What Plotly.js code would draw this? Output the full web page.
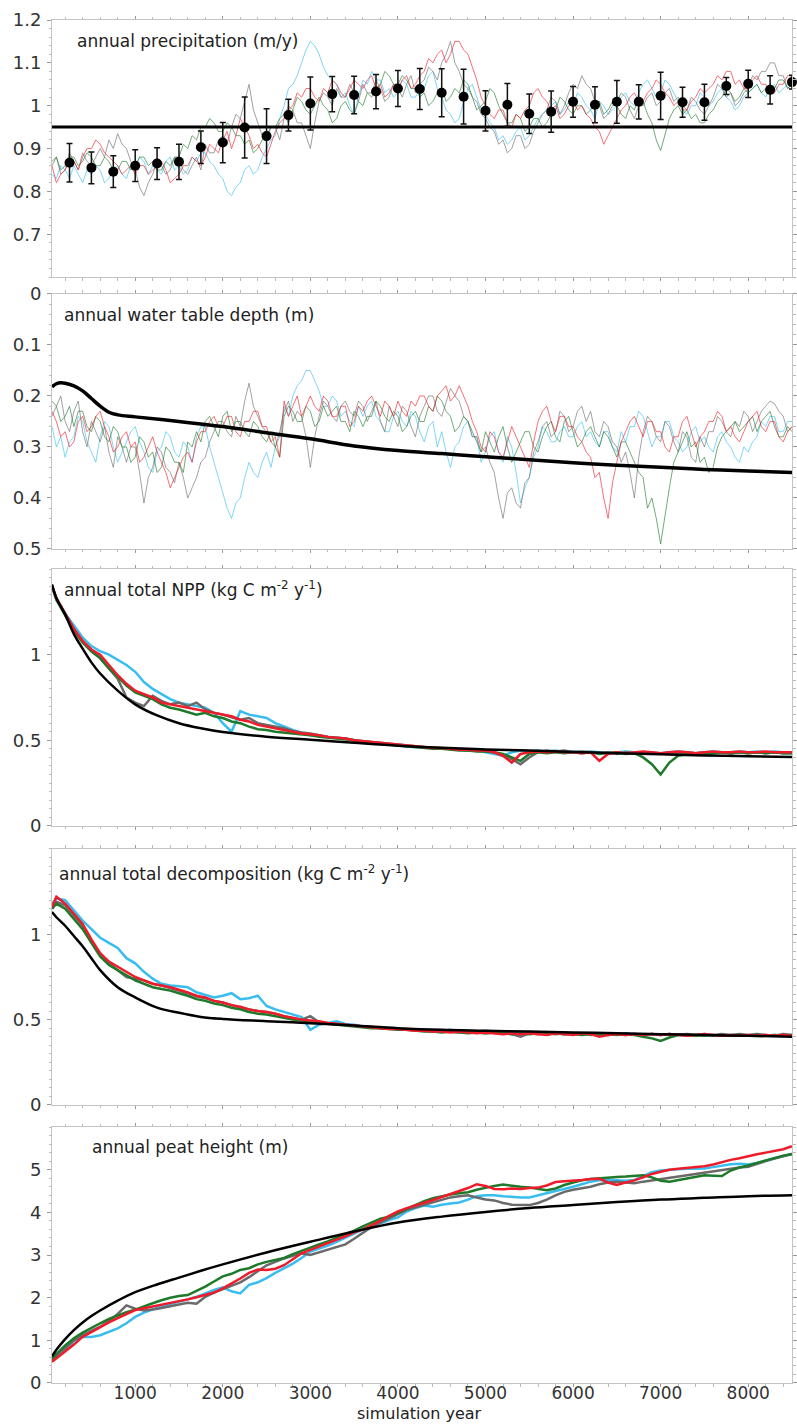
<!DOCTYPE html>
<html>
<head>
<meta charset="utf-8">
<script src="https://cdn.plot.ly/plotly-3.0.1.min.js"></script>
<style>html,body{margin:0;padding:0;background:#fff;}#chart{width:797px;height:1425px;}</style>
</head>
<body>
<div id="chart"></div>
<script>
// ---------- x grids ----------
const years = [50]; for (let y = 100; y <= 8500; y += 100) years.push(y);      // smooth panels (86)
const years50 = []; for (let y = 50; y <= 8500; y += 50) years50.push(y);       // noisy panels (170)
const dotYears = []; for (let y = 250; y <= 8500; y += 250) dotYears.push(y);
const blackYears = [50,100,200,300,400,500,600,800,1000,1250,1500,1750,2000,2500,3000,3500,4000,4500,5000,5500,6000,6500,7000,7500,8000,8500];
const wtBlackYears = [50,100,150,200,300,400,500,600,700,800,1000,1500,2000,2500,3000,3500,4000,4500,5000,5500,6000,6500,7000,7500,8000,8500];

// ---------- panel 1: annual precipitation ----------
const precipThreshold = 0.95;
const precipMean = [0.867,0.855,0.846,0.860,0.865,0.869,0.903,0.914,0.949,0.929,0.978,1.005,1.027,1.025,1.033,1.040,1.039,1.030,1.021,0.988,1.002,0.981,0.986,1.009,1.002,1.009,1.009,1.023,1.008,1.008,1.046,1.051,1.037,1.055];
const precipErr = [0.045,0.037,0.037,0.037,0.037,0.041,0.038,0.047,0.071,0.064,0.037,0.062,0.041,0.044,0.040,0.042,0.048,0.056,0.064,0.047,0.050,0.046,0.048,0.036,0.042,0.050,0.040,0.055,0.035,0.042,0.020,0.032,0.033,0.016];
const precipGray = [0.86,0.88,0.84,0.85,0.89,0.87,0.85,0.89,0.87,0.86,0.88,0.90,0.88,0.92,0.90,0.935,0.91,0.90,0.87,
 0.85,0.81,0.79,0.82,0.84,0.87,0.86,0.84,0.85,0.88,0.87,0.85,0.84,0.86,0.88,0.85,0.91,0.89,0.89,0.92,
 0.93,0.91,0.95,0.98,0.97,1.01,1.05,0.99,0.96,0.93,0.92,0.95,0.95,0.92,0.97,1.00,0.99,0.96,0.96,0.93,
 0.90,0.96,1.01,1.03,1.02,1.00,1.04,1.02,1.02,1.05,1.03,1.01,1.05,1.03,1.03,1.06,1.04,1.01,1.02,1.05,
 1.04,1.02,1.05,1.07,1.03,1.05,1.06,1.09,1.08,1.06,1.10,1.12,1.15,1.10,1.08,1.05,1.04,1.02,1.01,0.98,
 0.97,0.95,0.94,0.91,0.92,0.89,0.90,0.93,0.93,0.90,0.91,0.94,0.96,0.98,0.99,1.02,1.01,0.98,1.00,1.03,
 1.05,1.04,1.07,1.05,1.04,1.01,1.00,0.97,0.98,1.00,1.01,1.03,1.02,0.99,0.97,1.00,1.00,1.02,1.03,1.00,
 1.01,1.03,1.04,1.01,1.02,1.00,0.99,1.02,1.01,0.99,0.98,1.00,1.02,1.05,1.04,1.02,1.03,1.00,1.01,1.03,
 1.04,1.07,1.06,1.08,1.08,1.10,1.10,1.07,1.07,1.04,1.05];
const precipGreen = [0.87,0.88,0.85,0.86,0.88,0.88,0.86,0.87,0.89,0.88,0.86,0.86,0.88,0.87,0.85,0.85,0.87,0.87,0.85,
 0.86,0.88,0.88,0.86,0.87,0.85,0.85,0.87,0.86,0.88,0.88,0.91,0.90,0.93,0.92,0.95,0.95,0.97,0.96,0.94,
 0.94,0.96,0.95,0.93,0.93,0.91,0.92,0.89,0.90,0.92,0.93,0.95,0.95,0.97,0.98,0.96,0.99,1.02,1.01,0.99,
 0.98,1.00,1.02,1.00,0.99,0.96,0.97,1.00,1.01,0.99,0.98,1.01,1.00,1.03,1.02,1.04,1.05,1.08,1.07,1.05,
 1.05,1.07,1.06,1.04,1.04,1.02,1.03,1.00,1.01,1.03,1.04,1.01,1.02,1.04,1.03,1.06,1.05,1.02,0.99,1.00,
 1.01,1.04,1.03,1.00,0.98,0.96,0.96,0.98,0.97,0.94,0.95,0.97,0.97,0.95,0.96,0.98,0.99,1.02,1.01,0.99,
 0.98,1.00,1.00,0.98,0.99,1.01,1.01,0.98,0.99,1.01,1.00,0.98,0.97,1.00,0.99,1.02,1.01,0.98,0.96,0.92,
 0.895,0.93,0.97,0.99,1.00,0.98,0.99,0.97,0.98,0.96,0.96,0.98,0.99,1.01,1.02,1.04,1.03,1.01,1.02,1.04,
 1.03,1.04,1.05,1.03,1.04,1.05,1.04,1.06,1.06,1.04,1.05];
const precipBlue = [0.84,0.83,0.86,0.85,0.83,0.86,0.84,0.82,0.85,0.84,0.86,0.85,0.82,0.83,0.85,0.86,0.84,0.83,0.86,
 0.85,0.88,0.87,0.84,0.86,0.85,0.84,0.87,0.88,0.85,0.86,0.84,0.85,0.88,0.87,0.89,0.89,0.87,0.86,0.84,
 0.83,0.80,0.79,0.81,0.82,0.85,0.86,0.84,0.85,0.88,0.90,0.92,0.93,0.97,1.00,1.04,1.05,1.07,1.10,1.13,
 1.15,1.14,1.12,1.09,1.07,1.06,1.05,1.02,1.03,1.00,0.98,1.02,1.06,1.05,1.08,1.06,1.06,1.03,1.04,1.02,
 1.03,1.06,1.05,1.02,1.02,1.04,1.04,1.07,1.08,1.04,1.02,0.99,0.98,0.96,0.97,1.01,1.04,1.05,1.02,0.99,
 0.98,0.96,0.95,0.92,0.93,0.91,0.92,0.94,0.95,0.92,0.93,0.95,0.97,0.98,0.99,1.00,1.01,0.98,0.99,1.01,
 1.00,1.03,1.02,1.00,0.99,0.97,1.01,1.00,0.98,0.99,1.00,1.02,1.03,1.01,1.00,1.03,1.05,1.06,1.04,1.02,
 1.03,1.06,1.05,1.03,1.01,0.99,0.98,1.00,1.00,1.03,1.02,1.00,1.01,1.03,1.04,1.02,1.01,0.99,1.00,1.02,
 1.03,1.04,1.05,1.03,1.02,1.04,1.05,1.03,1.04,1.05,1.06];
const precipRed = [0.86,0.82,0.84,0.85,0.87,0.87,0.85,0.88,0.90,0.90,0.92,0.91,0.89,0.88,0.87,0.86,0.84,0.85,0.86,
 0.84,0.86,0.86,0.84,0.85,0.86,0.87,0.85,0.82,0.83,0.84,0.86,0.86,0.88,0.87,0.86,0.88,0.91,0.90,0.89,
 0.92,0.94,0.90,0.93,0.97,0.95,0.93,0.90,0.91,0.89,0.88,0.91,0.94,0.96,0.97,0.99,1.00,1.03,1.02,1.04,
 1.04,1.02,1.01,1.04,1.03,1.06,1.05,1.03,1.02,1.04,1.06,1.05,1.04,1.06,1.07,1.04,1.05,1.02,1.03,1.05,
 1.04,1.06,1.07,1.04,1.05,1.07,1.08,1.11,1.10,1.12,1.13,1.10,1.12,1.15,1.15,1.13,1.12,1.09,1.06,1.02,
 1.00,0.98,0.97,0.99,0.99,0.96,0.95,0.98,0.97,0.99,1.00,1.03,1.04,1.02,1.01,0.99,1.00,0.97,0.98,1.00,
 1.01,0.99,1.00,0.98,0.97,0.95,0.94,0.91,0.93,0.95,0.97,0.99,1.00,1.02,1.03,1.01,1.01,1.03,1.04,1.06,
 1.05,1.03,1.02,1.00,1.01,0.99,0.99,1.01,1.02,1.04,1.03,1.04,1.05,1.07,1.06,1.08,1.08,1.05,1.06,1.04,
 1.04,1.06,1.07,1.05,1.05,1.03,1.03,1.05,1.05,1.07,1.07];

// ---------- panel 2: annual water table depth ----------
const wtBlack = [0.182,0.176,0.174,0.175,0.180,0.190,0.205,0.220,0.232,0.237,0.241,0.250,0.260,0.272,0.284,0.298,0.307,0.313,0.319,0.325,0.331,0.336,0.340,0.344,0.347,0.350];
const wtGray = [0.24,0.22,0.20,0.25,0.27,0.23,0.21,0.27,0.30,0.25,0.27,0.29,0.26,0.31,0.34,0.28,0.30,0.33,0.30,
 0.30,0.35,0.41,0.36,0.34,0.30,0.31,0.34,0.35,0.37,0.33,0.36,0.40,0.38,0.36,0.33,0.32,0.29,0.27,0.25,
 0.25,0.27,0.28,0.24,0.26,0.21,0.175,0.22,0.24,0.26,0.27,0.29,0.30,0.27,0.23,0.21,0.25,0.23,0.24,0.28,
 0.34,0.28,0.24,0.21,0.22,0.24,0.25,0.22,0.21,0.23,0.24,0.21,0.22,0.25,0.23,0.21,0.25,0.27,0.22,0.24,
 0.26,0.22,0.23,0.26,0.28,0.24,0.22,0.20,0.20,0.23,0.24,0.21,0.185,0.20,0.21,0.24,0.25,0.28,0.28,0.31,
 0.30,0.33,0.35,0.40,0.44,0.39,0.38,0.41,0.42,0.37,0.36,0.31,0.29,0.26,0.25,0.28,0.27,0.23,0.24,0.27,
 0.26,0.23,0.22,0.25,0.23,0.27,0.28,0.25,0.26,0.29,0.30,0.33,0.31,0.35,0.40,0.32,0.27,0.24,0.25,0.28,
 0.29,0.25,0.26,0.29,0.31,0.27,0.28,0.32,0.33,0.28,0.30,0.27,0.27,0.24,0.25,0.27,0.28,0.25,0.26,0.23,
 0.24,0.27,0.25,0.23,0.22,0.21,0.215,0.23,0.24,0.27,0.26];
const wtGreen = [0.21,0.22,0.25,0.24,0.22,0.26,0.23,0.23,0.26,0.27,0.24,0.25,0.28,0.29,0.26,0.27,0.30,0.30,0.33,
 0.32,0.28,0.29,0.32,0.31,0.35,0.34,0.30,0.31,0.33,0.33,0.35,0.29,0.30,0.27,0.29,0.25,0.24,0.26,0.28,
 0.24,0.23,0.27,0.25,0.25,0.27,0.28,0.25,0.26,0.28,0.29,0.27,0.30,0.32,0.24,0.22,0.23,0.25,0.25,0.22,
 0.23,0.26,0.25,0.22,0.24,0.23,0.22,0.25,0.25,0.27,0.23,0.24,0.26,0.24,0.24,0.21,0.22,0.24,0.25,0.23,
 0.24,0.27,0.26,0.24,0.23,0.25,0.25,0.22,0.23,0.20,0.21,0.23,0.24,0.27,0.26,0.24,0.25,0.27,0.29,0.31,
 0.27,0.29,0.31,0.28,0.26,0.30,0.33,0.31,0.29,0.27,0.27,0.30,0.31,0.28,0.26,0.25,0.28,0.29,0.25,0.24,
 0.27,0.30,0.29,0.27,0.26,0.28,0.30,0.27,0.28,0.30,0.32,0.29,0.29,0.31,0.33,0.35,0.36,0.42,0.40,0.44,
 0.49,0.43,0.38,0.33,0.31,0.29,0.27,0.30,0.29,0.33,0.32,0.35,0.34,0.30,0.28,0.27,0.26,0.25,0.27,0.26,
 0.25,0.24,0.27,0.25,0.24,0.23,0.26,0.28,0.28,0.26,0.27];
const wtBlue = [0.26,0.30,0.28,0.32,0.29,0.28,0.24,0.25,0.29,0.31,0.33,0.28,0.25,0.26,0.30,0.33,0.31,0.29,0.27,
 0.26,0.29,0.31,0.34,0.35,0.31,0.30,0.27,0.28,0.31,0.32,0.29,0.30,0.33,0.28,0.26,0.26,0.30,0.33,0.36,
 0.39,0.42,0.44,0.41,0.40,0.36,0.33,0.35,0.36,0.33,0.31,0.34,0.30,0.28,0.22,0.24,0.20,0.18,0.17,0.15,
 0.15,0.17,0.19,0.22,0.22,0.20,0.21,0.24,0.23,0.25,0.26,0.22,0.24,0.22,0.21,0.24,0.25,0.27,0.27,0.24,
 0.23,0.25,0.26,0.23,0.24,0.27,0.29,0.26,0.25,0.30,0.27,0.31,0.34,0.30,0.29,0.26,0.25,0.28,0.28,0.33,
 0.31,0.28,0.27,0.31,0.33,0.28,0.30,0.35,0.41,0.38,0.36,0.32,0.30,0.26,0.27,0.29,0.29,0.27,0.26,0.28,
 0.28,0.26,0.25,0.28,0.27,0.29,0.30,0.27,0.27,0.30,0.31,0.27,0.29,0.26,0.26,0.23,0.24,0.27,0.30,0.28,
 0.28,0.25,0.25,0.28,0.29,0.31,0.30,0.27,0.26,0.29,0.28,0.30,0.31,0.28,0.27,0.29,0.30,0.32,0.33,0.30,
 0.31,0.29,0.28,0.25,0.26,0.24,0.24,0.27,0.27,0.25,0.25];
const wtRed = [0.23,0.25,0.28,0.27,0.30,0.29,0.25,0.24,0.27,0.26,0.24,0.23,0.26,0.28,0.31,0.30,0.28,0.27,0.30,
 0.29,0.33,0.32,0.30,0.28,0.31,0.33,0.35,0.38,0.36,0.34,0.32,0.31,0.33,0.29,0.27,0.27,0.25,0.24,0.26,
 0.26,0.24,0.24,0.27,0.28,0.25,0.25,0.23,0.23,0.26,0.26,0.29,0.28,0.32,0.21,0.24,0.22,0.20,0.24,0.22,
 0.20,0.22,0.23,0.20,0.21,0.24,0.24,0.22,0.22,0.26,0.25,0.22,0.23,0.21,0.20,0.22,0.24,0.21,0.22,0.24,
 0.21,0.23,0.24,0.21,0.22,0.20,0.20,0.22,0.23,0.20,0.19,0.18,0.21,0.20,0.18,0.20,0.22,0.25,0.27,0.30,
 0.31,0.27,0.28,0.31,0.32,0.29,0.26,0.28,0.30,0.32,0.34,0.29,0.25,0.23,0.22,0.25,0.27,0.24,0.24,0.26,
 0.26,0.28,0.29,0.31,0.32,0.36,0.35,0.40,0.44,0.37,0.33,0.29,0.27,0.25,0.24,0.26,0.28,0.25,0.25,0.27,
 0.27,0.30,0.31,0.28,0.28,0.25,0.24,0.27,0.30,0.28,0.27,0.25,0.25,0.23,0.24,0.27,0.26,0.28,0.29,0.27,
 0.25,0.24,0.23,0.26,0.27,0.25,0.25,0.28,0.29,0.27,0.26];

// ---------- panel 3: annual total NPP ----------
const nppBlack = [1.41,1.33,1.235,1.12,1.035,0.955,0.89,0.79,0.71,0.645,0.60,0.57,0.548,0.521,0.503,0.485,0.468,0.456,0.447,0.44,0.432,0.425,0.418,0.412,0.407,0.403];
const nppGray = [1.40,1.33,1.24,1.15,1.08,1.02,0.98,0.92,0.86,0.75,
 0.72,0.70,0.76,0.73,0.71,0.72,0.70,0.72,0.68,0.66,
 0.65,0.635,0.62,0.63,0.60,0.59,0.58,0.57,0.555,0.545,
 0.54,0.53,0.52,0.515,0.51,0.50,0.495,0.49,0.485,0.48,
 0.475,0.47,0.465,0.46,0.455,0.45,0.45,0.445,0.44,0.44,
 0.435,0.43,0.41,0.39,0.36,0.40,0.43,0.44,0.435,0.44,
 0.43,0.435,0.43,0.425,0.43,0.42,0.43,0.425,0.43,0.425,
 0.42,0.43,0.425,0.43,0.425,0.43,0.425,0.43,0.425,0.43,
 0.425,0.43,0.425,0.43,0.425,0.425];
const nppGreen = [1.40,1.32,1.23,1.14,1.07,1.02,0.98,0.92,0.87,0.82,
 0.78,0.76,0.74,0.71,0.69,0.68,0.665,0.65,0.66,0.64,
 0.63,0.61,0.60,0.58,0.565,0.56,0.55,0.545,0.54,0.535,
 0.53,0.52,0.515,0.51,0.505,0.50,0.49,0.485,0.48,0.475,
 0.47,0.465,0.46,0.455,0.45,0.45,0.445,0.44,0.44,0.435,
 0.435,0.43,0.42,0.40,0.38,0.42,0.43,0.425,0.43,0.425,
 0.43,0.425,0.43,0.42,0.425,0.43,0.42,0.425,0.40,0.36,
 0.30,0.37,0.41,0.42,0.425,0.42,0.425,0.43,0.425,0.43,
 0.425,0.43,0.425,0.43,0.425,0.425];
const nppBlue = [1.40,1.32,1.24,1.17,1.10,1.05,1.02,1.00,0.97,0.94,
 0.90,0.84,0.80,0.77,0.74,0.72,0.71,0.70,0.69,0.66,
 0.60,0.55,0.67,0.65,0.64,0.63,0.60,0.58,0.56,0.545,
 0.53,0.525,0.52,0.515,0.51,0.50,0.49,0.485,0.48,0.475,
 0.47,0.465,0.46,0.46,0.455,0.45,0.45,0.445,0.44,0.44,
 0.43,0.42,0.41,0.43,0.44,0.435,0.44,0.435,0.44,0.43,
 0.435,0.43,0.435,0.43,0.425,0.43,0.435,0.43,0.425,0.43,
 0.425,0.43,0.435,0.43,0.425,0.43,0.435,0.43,0.43,0.435,
 0.43,0.435,0.43,0.435,0.43,0.43];
const nppRed = [1.40,1.33,1.24,1.15,1.08,1.03,1.00,0.94,0.88,0.83,
 0.79,0.77,0.75,0.72,0.71,0.70,0.69,0.68,0.67,0.66,
 0.65,0.64,0.62,0.61,0.59,0.58,0.57,0.56,0.55,0.54,
 0.535,0.53,0.52,0.515,0.51,0.50,0.495,0.49,0.485,0.48,
 0.475,0.47,0.465,0.46,0.455,0.455,0.45,0.445,0.445,0.44,
 0.44,0.43,0.41,0.37,0.42,0.43,0.435,0.43,0.435,0.43,
 0.43,0.425,0.43,0.38,0.42,0.43,0.425,0.43,0.435,0.43,
 0.425,0.43,0.435,0.43,0.425,0.43,0.435,0.43,0.43,0.435,
 0.43,0.43,0.435,0.43,0.43,0.43];

// ---------- panel 4: annual total decomposition ----------
const decBlack = [1.13,1.10,1.05,0.99,0.93,0.86,0.79,0.69,0.63,0.57,0.54,0.516,0.504,0.491,0.479,0.465,0.45,0.44,0.435,0.43,0.425,0.42,0.415,0.41,0.405,0.40];
const decGray = [1.15,1.19,1.17,1.11,1.05,0.96,0.88,0.83,0.79,0.75,
 0.74,0.73,0.71,0.70,0.685,0.67,0.655,0.635,0.625,0.61,
 0.60,0.585,0.57,0.56,0.55,0.545,0.535,0.52,0.51,0.50,
 0.52,0.485,0.48,0.475,0.47,0.465,0.46,0.455,0.45,0.45,
 0.445,0.44,0.44,0.435,0.43,0.435,0.43,0.425,0.43,0.425,
 0.42,0.425,0.42,0.415,0.40,0.42,0.415,0.42,0.415,0.42,
 0.415,0.42,0.41,0.415,0.41,0.415,0.41,0.415,0.41,0.415,
 0.41,0.415,0.41,0.415,0.41,0.405,0.41,0.415,0.41,0.415,
 0.41,0.415,0.41,0.405,0.415,0.41];
const decGreen = [1.15,1.18,1.15,1.09,1.03,0.95,0.87,0.82,0.79,0.76,
 0.73,0.71,0.69,0.68,0.67,0.655,0.64,0.62,0.61,0.595,
 0.585,0.57,0.56,0.545,0.535,0.53,0.52,0.51,0.50,0.495,
 0.49,0.485,0.475,0.47,0.465,0.46,0.455,0.45,0.45,0.445,
 0.44,0.44,0.435,0.43,0.43,0.425,0.43,0.425,0.42,0.425,
 0.42,0.425,0.42,0.415,0.42,0.415,0.42,0.415,0.42,0.415,
 0.415,0.41,0.415,0.41,0.415,0.41,0.415,0.41,0.40,0.39,
 0.375,0.395,0.41,0.41,0.405,0.41,0.405,0.41,0.405,0.41,
 0.405,0.41,0.405,0.41,0.405,0.41];
const decBlue = [1.18,1.21,1.20,1.14,1.08,1.03,0.98,0.95,0.92,0.86,
 0.83,0.78,0.74,0.71,0.70,0.695,0.69,0.66,0.645,0.63,
 0.64,0.655,0.62,0.625,0.64,0.58,0.56,0.545,0.53,0.515,
 0.44,0.47,0.48,0.49,0.475,0.47,0.46,0.455,0.455,0.45,
 0.445,0.44,0.44,0.435,0.43,0.435,0.44,0.43,0.425,0.43,
 0.435,0.43,0.425,0.42,0.425,0.42,0.425,0.42,0.42,0.415,
 0.42,0.415,0.42,0.415,0.41,0.415,0.42,0.415,0.41,0.415,
 0.41,0.415,0.41,0.405,0.41,0.415,0.41,0.405,0.41,0.41,
 0.405,0.41,0.405,0.41,0.405,0.41];
const decRed = [1.16,1.22,1.18,1.12,1.06,0.97,0.89,0.84,0.81,0.78,
 0.75,0.73,0.71,0.70,0.69,0.675,0.66,0.64,0.63,0.61,
 0.60,0.585,0.575,0.56,0.55,0.545,0.535,0.52,0.51,0.50,
 0.495,0.49,0.48,0.475,0.47,0.465,0.46,0.455,0.45,0.445,
 0.445,0.44,0.435,0.435,0.43,0.43,0.425,0.43,0.425,0.42,
 0.425,0.42,0.415,0.42,0.415,0.42,0.415,0.41,0.42,0.415,
 0.41,0.42,0.415,0.40,0.41,0.415,0.41,0.415,0.41,0.415,
 0.41,0.415,0.41,0.405,0.41,0.415,0.41,0.405,0.41,0.405,
 0.41,0.405,0.41,0.405,0.41,0.405];

// ---------- panel 5: annual peat height ----------
const peatBlack = [0.62,0.78,1.03,1.24,1.42,1.57,1.70,1.93,2.13,2.31,2.47,2.63,2.78,3.06,3.31,3.55,3.76,3.90,4.01,4.10,4.17,4.24,4.30,4.34,4.38,4.40];
const peatGray = [0.55,0.65,0.82,1.00,1.12,1.22,1.32,1.45,1.62,1.82,
 1.74,1.70,1.72,1.76,1.80,1.84,1.88,1.86,2.02,2.12,
 2.20,2.28,2.36,2.48,2.62,2.76,2.84,2.92,2.98,3.04,
 3.00,3.06,3.12,3.18,3.25,3.38,3.52,3.66,3.76,3.86,
 3.95,4.06,4.12,4.18,4.24,4.30,4.35,4.38,4.40,4.35,
 4.30,4.28,4.22,4.18,4.17,4.17,4.22,4.30,4.40,4.48,
 4.53,4.56,4.60,4.66,4.70,4.72,4.70,4.68,4.72,4.75,
 4.78,4.81,4.84,4.88,4.91,4.93,4.96,5.00,5.03,5.05,
 5.07,5.14,5.20,5.26,5.32,5.37];
const peatGreen = [0.55,0.68,0.88,1.05,1.18,1.30,1.40,1.50,1.58,1.66,
 1.72,1.80,1.87,1.94,2.00,2.04,2.06,2.16,2.26,2.38,
 2.50,2.56,2.65,2.69,2.78,2.84,2.88,2.93,3.02,3.10,
 3.18,3.25,3.32,3.40,3.48,3.57,3.67,3.76,3.85,3.90,
 3.99,4.08,4.18,4.26,4.33,4.38,4.42,4.45,4.47,4.53,
 4.58,4.62,4.65,4.62,4.60,4.58,4.55,4.52,4.56,4.64,
 4.70,4.75,4.78,4.80,4.82,4.83,4.84,4.86,4.87,4.82,
 4.74,4.72,4.76,4.80,4.84,4.87,4.86,4.85,4.98,5.05,
 5.10,5.16,5.22,5.28,5.33,5.37];
const peatBlue = [0.55,0.65,0.80,0.98,1.08,1.08,1.12,1.20,1.28,1.40,
 1.55,1.65,1.72,1.80,1.85,1.90,1.96,2.02,2.10,2.18,
 2.24,2.15,2.10,2.30,2.36,2.46,2.58,2.69,2.80,2.93,
 3.08,3.15,3.22,3.31,3.40,3.50,3.60,3.68,3.74,3.82,
 3.88,4.02,4.10,4.16,4.13,4.18,4.21,4.23,4.30,4.38,
 4.40,4.40,4.38,4.36,4.35,4.35,4.40,4.45,4.50,4.54,
 4.60,4.66,4.72,4.75,4.76,4.75,4.74,4.76,4.85,4.94,
 4.98,5.00,5.01,5.02,5.03,5.03,5.06,5.10,5.13,5.14,
 5.12,5.16,5.22,5.27,5.32,5.36];
const peatRed = [0.50,0.58,0.72,0.90,1.08,1.20,1.32,1.42,1.52,1.62,
 1.71,1.75,1.79,1.83,1.87,1.92,1.96,2.01,2.06,2.12,
 2.22,2.33,2.45,2.58,2.66,2.65,2.68,2.76,2.90,3.04,
 3.12,3.20,3.27,3.35,3.44,3.53,3.60,3.70,3.80,3.92,
 4.02,4.10,4.16,4.22,4.29,4.36,4.43,4.50,4.57,4.66,
 4.62,4.55,4.54,4.56,4.55,4.57,4.58,4.63,4.71,4.73,
 4.74,4.76,4.78,4.79,4.70,4.64,4.70,4.75,4.82,4.90,
 4.95,5.00,5.02,5.04,5.05,5.08,5.12,5.18,5.23,5.27,
 5.32,5.36,5.40,5.44,5.48,5.55];

// ---------- panel titles & tick labels ----------
const panelTitles = [
  'annual precipitation (m/y)',
  'annual water table depth (m)',
  'annual total NPP (kg C m<sup>-2</sup> y<sup>-1</sup>)',
  'annual total decomposition (kg C m<sup>-2</sup> y<sup>-1</sup>)',
  'annual peat height (m)'
];
const xTitle = 'simulation year';
const y1Ticks = [0.7,0.8,0.9,1.0,1.1,1.2], y1Text = ['0.7','0.8','0.9','1','1.1','1.2'];
const y2Ticks = [0,0.1,0.2,0.3,0.4,0.5], y2Text = ['0','0.1','0.2','0.3','0.4','0.5'];
const y3Ticks = [0,0.5,1], y3Text = ['0','0.5','1'];
const y5Ticks = [0,1,2,3,4,5], y5Text = ['0','1','2','3','4','5'];

// ---------- sanity ----------
[precipGray,precipGreen,precipBlue,precipRed,wtGray,wtGreen,wtBlue,wtRed].forEach((a,i)=>{ if (a.length!==years50.length) throw new Error('noisy series '+i+' has '+a.length); });
[nppGray,nppGreen,nppBlue,nppRed,decGray,decGreen,decBlue,decRed,peatGray,peatGreen,peatBlue,peatRed].forEach((a,i)=>{ if (a.length!==years.length) throw new Error('smooth series '+i+' has '+a.length); });

// ---------- styling ----------
const C = {gray:'#6a6a6a', green:'#1e7a2a', blue:'#38bdf0', red:'#ee1c2a', black:'#000000'};
const traces = [];
function line(x, y, color, width, ax, opts) {
  const t = Object.assign({x:x, y:y, type:'scatter', mode:'lines', line:{color:color, width:width},
    xaxis:'x'+(ax===1?'':ax), yaxis:'y'+(ax===1?'':ax), showlegend:false, hoverinfo:'skip'}, opts||{});
  traces.push(t);
}
const thin = {opacity:0.7};
// panel 1
line(years50, precipBlue, C.blue, 0.9, 1, thin);
line(years50, precipGray, C.gray, 0.9, 1, thin);
line(years50, precipGreen, C.green, 0.9, 1, thin);
line(years50, precipRed, C.red, 0.9, 1, thin);
line([years50[0], years50[years50.length-1]], [precipThreshold, precipThreshold], C.black, 3, 1);
traces.push({x:dotYears, y:precipMean, type:'scatter', mode:'markers', xaxis:'x', yaxis:'y',
  marker:{color:'#000', size:10}, error_y:{type:'data', array:precipErr, visible:true, color:'#111', thickness:1.5, width:3},
  showlegend:false, cliponaxis:false, hoverinfo:'skip'});
// panel 2
line(years50, wtBlue, C.blue, 0.9, 2, thin);
line(years50, wtGray, C.gray, 0.9, 2, thin);
line(years50, wtGreen, C.green, 0.9, 2, thin);
line(years50, wtRed, C.red, 0.9, 2, thin);
line(wtBlackYears, wtBlack, C.black, 3.5, 2, {line:{color:'#000', width:3.5, shape:'spline'}});
// panel 3
line(years, nppBlue, C.blue, 2.5, 3);
line(years, nppGray, C.gray, 2.5, 3);
line(years, nppGreen, C.green, 2.5, 3);
line(years, nppRed, C.red, 2.5, 3);
line(blackYears, nppBlack, C.black, 2.5, 3, {line:{color:'#000', width:2.5, shape:'spline'}});
// panel 4
line(years, decBlue, C.blue, 2.5, 4);
line(years, decGray, C.gray, 2.5, 4);
line(years, decGreen, C.green, 2.5, 4);
line(years, decRed, C.red, 2.5, 4);
line(blackYears, decBlack, C.black, 2.5, 4, {line:{color:'#000', width:2.5, shape:'spline'}});
// panel 5
line(years, peatBlue, C.blue, 2.5, 5);
line(years, peatGray, C.gray, 2.5, 5);
line(years, peatGreen, C.green, 2.5, 5);
line(years, peatRed, C.red, 2.5, 5);
line(blackYears, peatBlack, C.black, 2.5, 5, {line:{color:'#000', width:2.5, shape:'spline'}});

const tickFont = {family:'DejaVu Sans, Verdana, sans-serif', size:18, color:'#333'};
function xAxis(showLabels, anchor) {
  return {range:[50,8500], tickmode:'linear', tick0:0, dtick:1000, ticks:'outside', ticklen:3,
    tickcolor:'#999', showline:true, linecolor:'#c4c4c4', linewidth:1, mirror:'ticks',
    showgrid:false, zeroline:false, showticklabels:showLabels,
    tickfont:{family:'DejaVu Sans, Verdana, sans-serif', size:17, color:'#333'}, anchor:anchor,
    ticklabelstandoff:-8,
    minor:{dtick:200, tick0:0, ticks:'outside', ticklen:2.5, tickcolor:'#bbb', showgrid:false}};
}
function yAxis(domain, range, tv, tt, minorDt, anchor) {
  return {domain:domain, range:range, tickmode:'array', tickvals:tv, ticktext:tt, ticks:'outside', ticklen:4,
    tickcolor:'#999', showline:true, linecolor:'#c4c4c4', linewidth:1, mirror:'ticks',
    showgrid:false, zeroline:false, tickfont:tickFont, anchor:anchor, ticklabelstandoff:2,
    minor:{dtick:minorDt, tick0:0, ticks:'outside', ticklen:2.5, tickcolor:'#bbb', showgrid:false}};
}
const annFont = {family:'DejaVu Sans, Verdana, sans-serif', size:17, color:'#222'};
function ann(text, x, y) {
  return {text:text, xref:'paper', yref:'paper', x:x, y:y, xanchor:'left', yanchor:'middle', showarrow:false, font:annFont};
}
const layout = {
  width:797, height:1425, margin:{l:52, r:5, t:20, b:42},
  paper_bgcolor:'#fff', plot_bgcolor:'#fff', showlegend:false,
  xaxis: xAxis(false,'y'), xaxis2: Object.assign(xAxis(false,'y2'), {matches:'x'}),
  xaxis3: Object.assign(xAxis(false,'y3'), {matches:'x'}), xaxis4: Object.assign(xAxis(false,'y4'), {matches:'x'}),
  xaxis5: Object.assign(xAxis(true,'y5'), {matches:'x'}),
  yaxis: yAxis([0.8114,1.0],[0.6,1.2],y1Ticks,y1Text,0.02,'x'),
  yaxis2: yAxis([0.6119,0.7990],[0.5,0],y2Ticks,y2Text,0.02,'x2'),
  yaxis3: yAxis([0.4087,0.5972],[0,1.5],y3Ticks,y3Text,0.05,'x3'),
  yaxis4: yAxis([0.2040,0.3918],[0,1.5],y3Ticks,y3Text,0.05,'x4'),
  yaxis5: yAxis([0,0.1878],[0,6],y5Ticks,y5Text,0.2,'x5'),
  annotations: [
    ann(panelTitles[0], 0.031, 0.9846),
    ann(panelTitles[1], 0.0135, 0.7836),
    ann(panelTitles[2], 0.0135, 0.5825),
    ann(panelTitles[3], 0.0068, 0.374),
    ann(panelTitles[4], 0.051, 0.1731),
    {text:xTitle, xref:'paper', yref:'paper', x:0.497, y:-0.0306, xanchor:'center', yanchor:'bottom', showarrow:false,
     font:{family:'DejaVu Sans, Verdana, sans-serif', size:16, color:'#222'}}
  ]
};
Plotly.newPlot('chart', traces, layout, {displayModeBar:false, staticPlot:true});
</script>
</body>
</html>
